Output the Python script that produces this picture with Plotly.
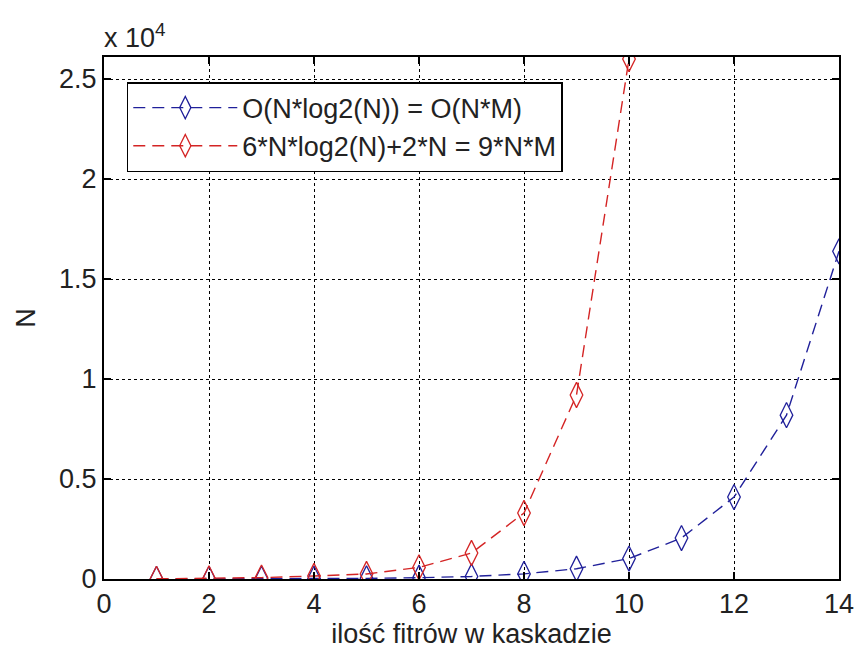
import plotly.graph_objects as go

# Number of filters in the cascade
n_blue = [1, 2, 3, 4, 5, 6, 7, 8, 9, 10, 11, 12, 13, 14]
n_red = [1, 2, 3, 4, 5, 6, 7, 8, 9, 10]

# Operation counts
blue_vals = [2, 4, 8, 16, 32, 64, 128, 256, 512, 1024, 2048, 4096, 8192, 16384]
red_vals = [10, 30, 70, 150, 250, 580, 1300, 3300, 9200, 26000]

blue_name = "O(N*log2(N)) = O(N*M)"
red_name = "6*N*log2(N)+2*N = 9*N*M"

x_ticks = [0, 2, 4, 6, 8, 10, 12, 14]
y_ticks = [0, 5000, 10000, 15000, 20000, 25000]
y_ticktext = ["0", "0.5", "1", "1.5", "2", "2.5"]

BLUE = "#20209a"
RED = "#d42424"
FONT = "Liberation Sans, Arial, sans-serif"
TXT = "#222"
FS = 27

fig = go.Figure()
fig.add_trace(go.Scatter(
    x=n_blue, y=blue_vals, name=blue_name, mode="lines+markers",
    line=dict(color=BLUE, width=1.4, dash="12px,7px"),
    marker=dict(symbol="diamond-tall-open", size=18, color=BLUE, line=dict(width=1.3)),
))
fig.add_trace(go.Scatter(
    x=n_red, y=red_vals, name=red_name, mode="lines+markers",
    line=dict(color=RED, width=1.4, dash="12px,7px"),
    marker=dict(symbol="diamond-tall-open", size=18, color=RED, line=dict(width=1.3)),
))

axis_common = dict(
    showline=True, linecolor="black", linewidth=2, mirror="ticks",
    ticks="inside", ticklen=7, tickcolor="black", tickwidth=1.5,
    showgrid=True, gridcolor="black", gridwidth=1, griddash="dot",
    zeroline=False, automargin=False,
    tickfont=dict(family=FONT, size=FS, color=TXT),
)

fig.update_xaxes(
    range=[0, 14], tickvals=x_ticks, ticktext=[str(v) for v in x_ticks],
    title=dict(text="ilość fitrów w kaskadzie", font=dict(family=FONT, size=FS, color=TXT), standoff=2),
    **axis_common,
)
fig.update_yaxes(
    range=[0, 26100], tickvals=y_ticks, ticktext=y_ticktext,
    title=dict(text="N", font=dict(family=FONT, size=FS, color=TXT), standoff=16),
    **axis_common,
)

fig.add_annotation(
    xref="paper", yref="paper", x=0.0, y=1.0, xanchor="left", yanchor="bottom",
    xshift=-2, yshift=2, text="x 10<sup>4</sup>", showarrow=False,
    font=dict(family=FONT, size=FS, color=TXT),
)

fig.update_layout(
    width=857, height=654,
    margin=dict(l=104, r=18, t=57, b=75),
    paper_bgcolor="white", plot_bgcolor="white",
    legend=dict(
        x=0.031, y=0.952, xanchor="left", yanchor="top",
        bgcolor="white", bordercolor="black", borderwidth=1.5,
        font=dict(family=FONT, size=FS, color=TXT),
        tracegroupgap=0, itemwidth=104,
    ),
    showlegend=True,
)

fig.write_html("out.html")
